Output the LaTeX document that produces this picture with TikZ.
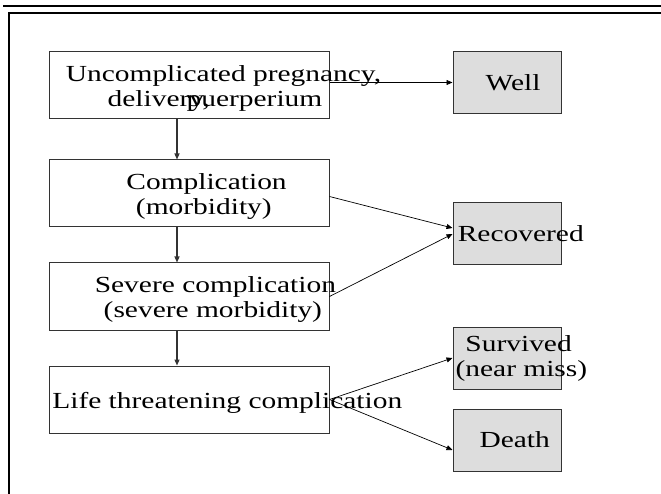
\documentclass[tikz,border=0pt]{standalone}
\usepackage{fontspec}
\setmainfont{Liberation Serif}
\newfontfamily\spaced[FakeStretch=1.28]{Liberation Serif}
\usetikzlibrary{arrows.meta,positioning}
\definecolor{rim}{HTML}{333333}
\definecolor{outfill}{HTML}{DDDDDD}
\newsavebox\pptbox
\newdimen\pptdrop
\newcommand\ppt[1]{\sbox\pptbox{#1}%
  \raisebox{-\pptdrop}[\ht\pptbox][\dp\pptbox]{\makebox[\wd\pptbox][l]{\spaced #1}}}

\begin{document}
\begin{tikzpicture}[x=1pt, y=1pt,
  stage/.style={
    draw=rim, line width=1pt, minimum width=280pt, minimum height=67pt,
    align=center, inner sep=0pt, font=\fontsize{23}{25}\selectfont,
    execute at begin node={\pptdrop=3.5pt}
  },
  outcome/.style={stage, fill=outfill, minimum width=108pt, minimum height=62pt,
    execute at begin node={\pptdrop=0pt}},
  arr/.style={-{Triangle[length=6pt,width=5pt]}, line width=0.7pt},
  down/.style={arr, line width=1.2pt, draw=rim}
]
  \useasboundingbox (0,0) rectangle (661,-494);
  % page rules
  \draw[line width=2pt] (3,-6.5) -- (661,-6.5);
  \draw[line width=2pt] (8.5,-494) -- (8.5,-13) -- (661,-13);

  \node[stage] (unc) at (189,-85.5) {\ppt{Uncomplicated pregnancy,}\\ \ppt{delivery,\kern-1em puerperium}};
  \node[stage, below=40pt of unc]  (comp) {\ppt{Complication}\\ \ppt{(morbidity)}};
  \node[stage, below=35pt of comp] (sev)  {\ppt{Severe complication}\\ \ppt{(severe morbidity)}};
  \node[stage, below=35pt of sev]  (life) {\ppt{Life threatening complication}};

  \node[outcome] (well) at (507,-82.5) {\ppt{Well}};
  \node[outcome] (rec)  at (507,-234)  {\ppt{Recovered}};
  \node[outcome] (surv) at (507,-358)  {\ppt{Survived}\\ \ppt{(near miss)}};
  \node[outcome, below=19pt of surv] (death) {\ppt{Death}};

  \draw[arr] (unc.east |- well.west) -- (well.west);
  \draw[down] ([xshift=-12pt]unc.south)  -- ([xshift=-12pt]comp.north);
  \draw[down] ([xshift=-12pt]comp.south) -- ([xshift=-12pt]sev.north);
  \draw[down] ([xshift=-12pt]sev.south)  -- ([xshift=-12pt]life.north);
  \draw[arr] ([yshift=-3pt]comp.east) -- ([yshift=6pt]rec.west);
  \draw[arr] (sev.east) -- (rec.west);
  \draw[arr] (life.east) -- (surv.west);
  \draw[arr] (life.east) -- ([yshift=-10pt]death.west);
\end{tikzpicture}
\end{document}
